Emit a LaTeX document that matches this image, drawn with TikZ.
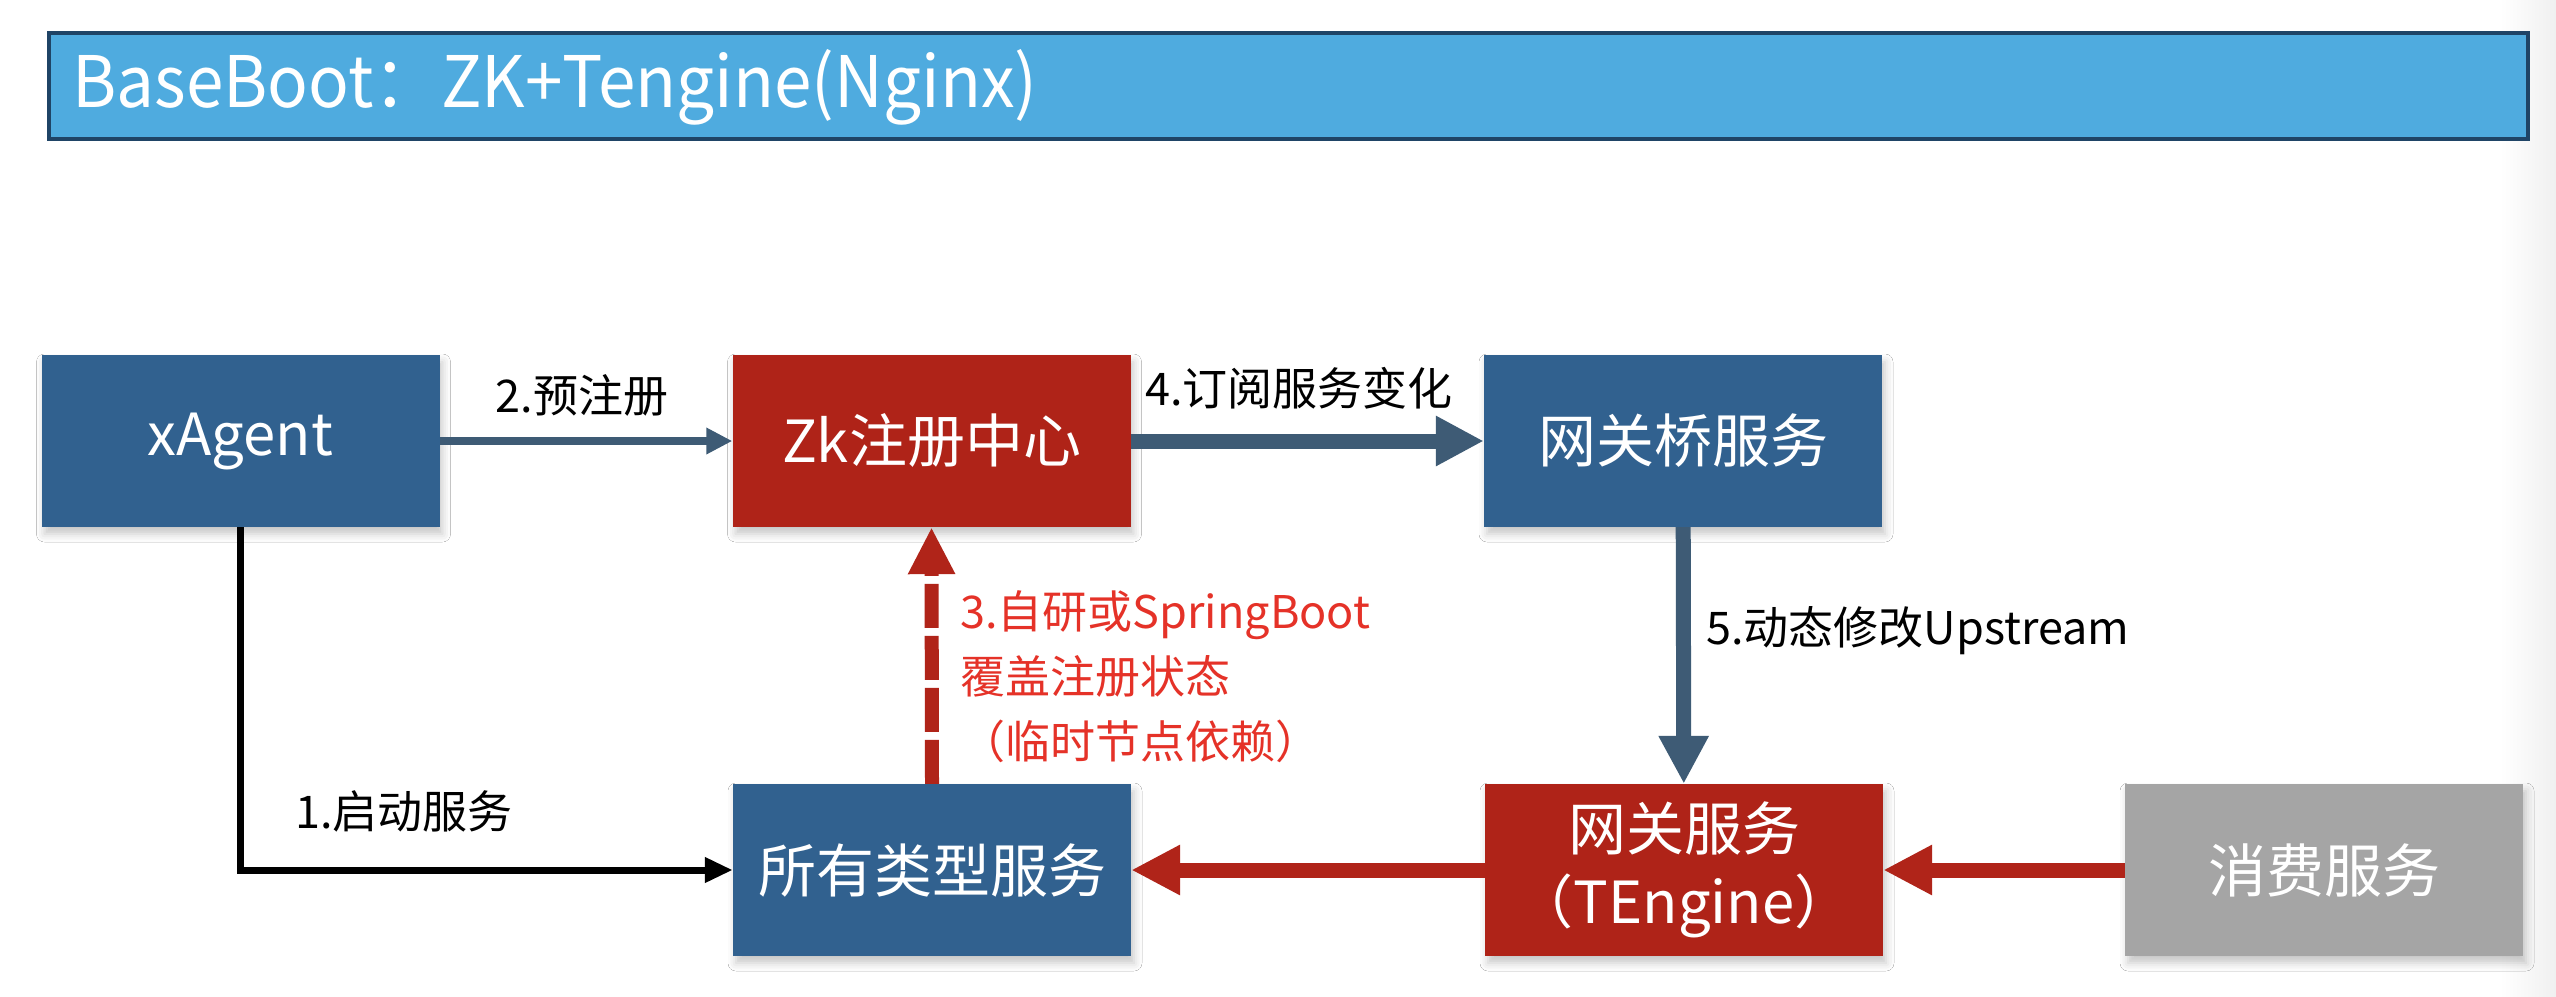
\documentclass[tikz,border=0pt]{standalone}
\usepackage{fontspec}
\setmainfont{Noto Sans CJK SC}
\newfontfamily\bannerfont[FakeStretch=0.95]{Noto Sans CJK SC}
\usetikzlibrary{arrows.meta,shadows.blur}
\definecolor{nodeblue}{HTML}{31618F}
\definecolor{nodered}{HTML}{AF2318}
\definecolor{nodegrey}{HTML}{A5A5A5}
\definecolor{slate}{HTML}{3E5B75}
\definecolor{redarrow}{HTML}{B02419}
\definecolor{redtext}{HTML}{E53228}
\definecolor{bannerfill}{HTML}{4FABDF}
\definecolor{bannerline}{HTML}{1F4466}
\tikzset{
  box/.style={minimum width=398pt, minimum height=172pt, inner sep=0pt,
    text=white, font=\fontsize{58}{73}\selectfont, align=center,
    blur shadow={shadow xshift=3pt, shadow yshift=-7pt, shadow blur radius=8pt, shadow opacity=22}},
  bluebox/.style={box, fill=nodeblue},
  redbox/.style={box, fill=nodered},
  greybox/.style={box, fill=nodegrey},
  lbl/.style={font=\fontsize{45}{54}\selectfont, inner sep=0pt},
  thinarrow/.style={draw=slate, line width=8pt, -{Triangle[length=26pt,width=25pt]}},
  slatearrow/.style={draw=slate, line width=15pt, -{Triangle[length=48pt,width=47pt]}},
  redflow/.style={draw=redarrow, line width=15pt, -{Triangle[length=49pt,width=47pt]}},
  dashredflow/.style={draw=redarrow, line width=14pt, dash pattern=on 44pt off 8pt, -{Triangle[length=47pt,width=44pt]}},
  blackflow/.style={draw=black, line width=7pt, line join=miter, -{Triangle[length=28pt,width=24pt]}}
}
\begin{document}
\begin{tikzpicture}[x=1pt,y=-1pt]
\useasboundingbox (0,0) rectangle (2556,996);
\fill[white] (0,0) rectangle (2556,996);
\shade[left color=white, right color=black!6] (2500,0) rectangle (2556,996);

% banner
\node[draw=bannerline, line width=4pt, fill=bannerfill, minimum width=2479pt, minimum height=106pt, inner sep=0pt] (banner) at (1288.5,86) {};
\node[anchor=base west, inner sep=0pt, text=white, font=\bannerfont\fontsize{71}{84}\selectfont] (bannertext) at (72,107) {BaseBoot：ZK+Tengine(Nginx)};

% nodes
\node[bluebox] (xagent) at (240.5,441) {xAgent};
\node[redbox] (zk) at (931.5,441) {Zk注册中心};
\node[bluebox] (bridge) at (1683,441) {网关桥服务};
\node[bluebox] (allsvc) at (932,870) {所有类型服务};
\node[redbox] (gw) at (1684,870) {网关服务\\（TEngine）};
\node[greybox] (consumer) at (2324,870) {消费服务};

% connectors
\draw[thinarrow] (xagent) -- (zk);
\draw[slatearrow] (zk) -- (bridge);
\draw[slatearrow] (bridge) -- (gw);
\draw[redflow] (consumer) -- (gw);
\draw[redflow] (gw) -- (allsvc);
\draw[dashredflow] (allsvc.north) -- (zk.south);
\draw[blackflow] (xagent.south) |- (allsvc.west);

% labels
\node[lbl] (l2) at (582,395) {2.预注册};
\node[lbl] (l4) at (1299,388) {4.订阅服务变化};
\node[lbl, anchor=west] (l5) at (1706,631) {5.动态修改Upstream};
\node[lbl] (l1) at (404,811) {1.启动服务};
\node[lbl, anchor=west, text=redtext, align=left, font=\fontsize{45}{65}\selectfont] (l3) at (960,677) {3.自研或SpringBoot\\覆盖注册状态\\（临时节点依赖）};
\end{tikzpicture}
\end{document}
